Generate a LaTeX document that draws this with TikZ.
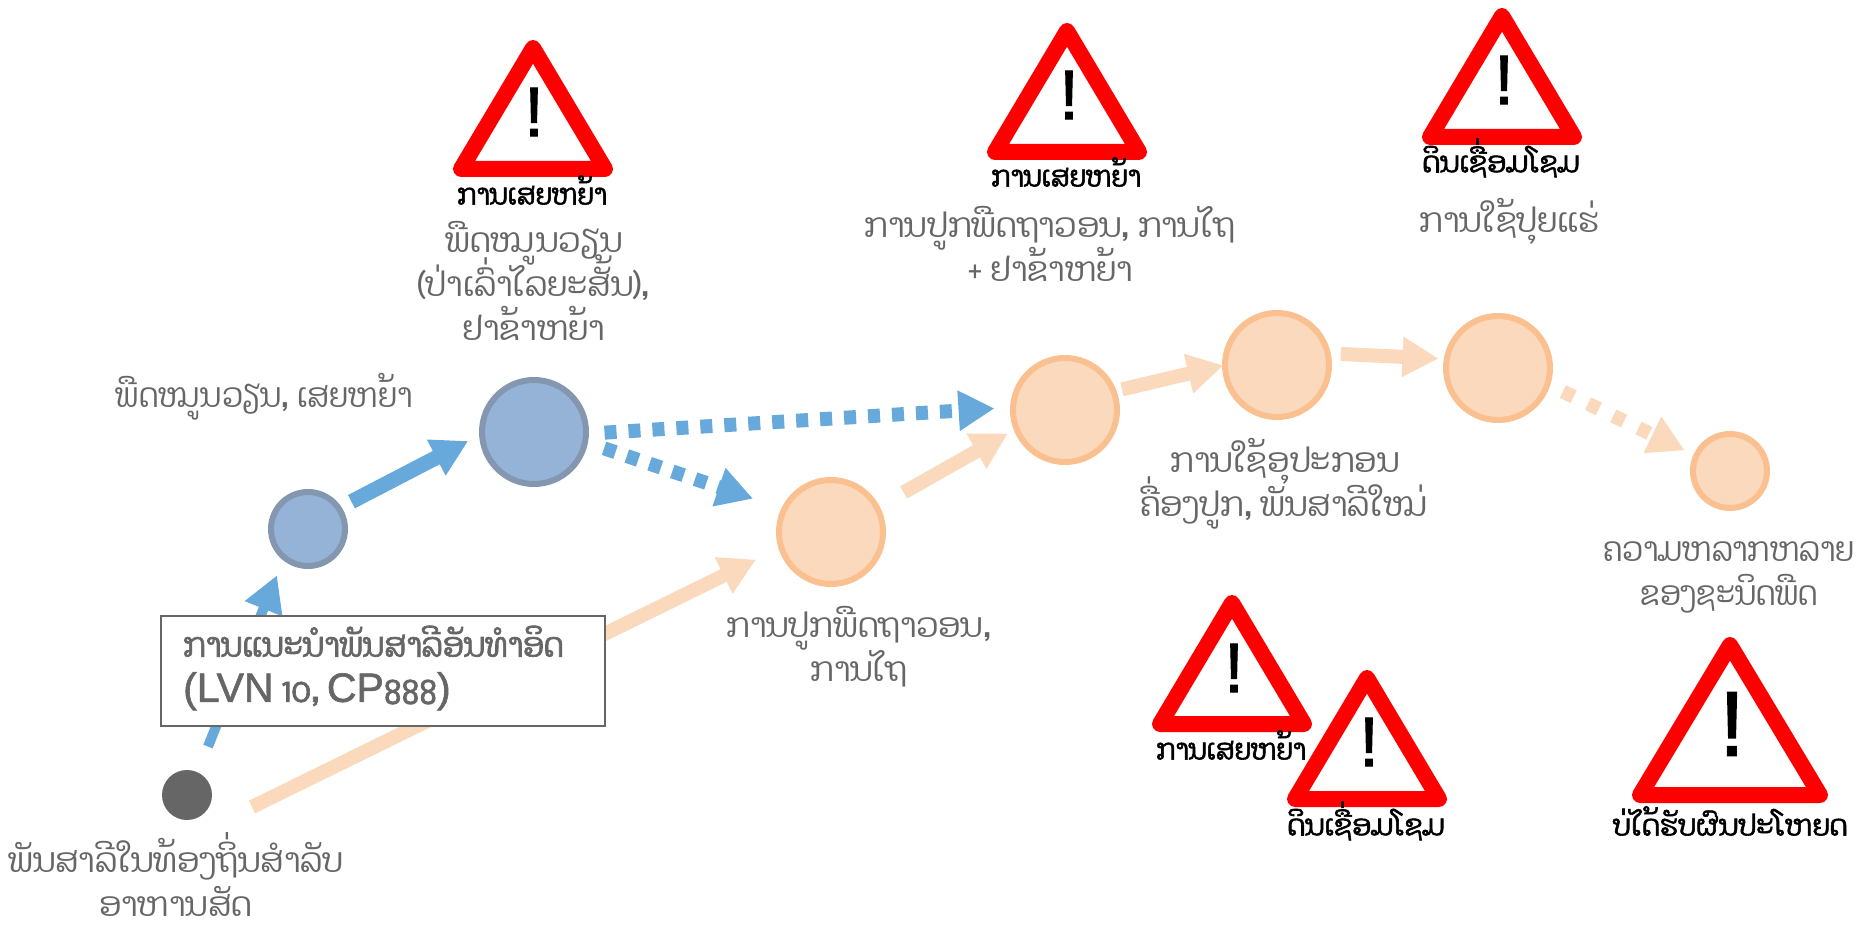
\documentclass[tikz,border=0pt]{standalone}
\usepackage{fontspec}
\usetikzlibrary{arrows.meta,calc}
\setmainfont{Liberation Sans}
\newfontfamily\laofont[Script=Lao,FakeStretch=0.89]{Dhyana}
\newfontfamily\laowide[Script=Lao,FakeStretch=0.95]{Dhyana}
\newfontfamily\laobold[Script=Lao,FakeStretch=0.9,FakeBold=2]{Dhyana}
\newfontfamily\laoboldwide[Script=Lao,FakeStretch=0.96,FakeBold=2]{Dhyana}
\newfontfamily\latbold[FakeBold=1.5]{Liberation Sans}
\newfontfamily\bangfont[FakeBold=1.5]{Liberation Sans}
\definecolor{bluearrow}{HTML}{66A9DA}
\definecolor{orangearrow}{HTML}{FBD9BC}
\definecolor{bluefill}{HTML}{95B3D7}
\definecolor{blueline}{HTML}{8497B0}
\definecolor{orangeline}{HTML}{FAC090}
\definecolor{greytext}{HTML}{666666}
\tikzset{
  bignode/.style={circle,inner sep=0pt,outer sep=0pt,minimum size=104pt,line width=6pt},
  smallnode/.style={circle,inner sep=0pt,outer sep=0pt,minimum size=74pt,line width=6pt},
  bluenode/.style={fill=bluefill,draw=blueline},
  orangenode/.style={fill=orangearrow,draw=orangeline},
  dotnode/.style={circle,inner sep=0pt,outer sep=0pt,minimum size=50pt,fill=greytext},
  conn/.style={line width=14pt,-{Triangle[length=36pt,width=38pt]}},
  blueconn/.style={conn,draw=bluearrow},
  orangeconn/.style={conn,draw=orangearrow},
  dashconn/.style={dash pattern=on 12pt off 12pt},
  graylabel/.style={text=greytext,align=center,inner sep=0pt,font=\laofont\fontsize{34}{44}\selectfont,execute at begin node={\lineskiplimit=-100pt}},
  graywide/.style={graylabel,font=\laowide\fontsize{34}{44}\selectfont},
  blacklabel/.style={text=black,align=center,inner sep=0pt,font=\laobold\fontsize{29}{34}\selectfont},
  blackwide/.style={blacklabel,font=\laoboldwide\fontsize{29}{34}\selectfont},
  bang/.style={text=black,inner sep=0pt,font=\bangfont\fontsize{70}{70}\selectfont},
  bigbang/.style={text=black,inner sep=0pt,font=\bangfont\fontsize{92}{92}\selectfont},
  warnline/.style={draw=red,fill=white,line width=16pt,line join=round},
  boxnode/.style={draw=greytext,fill=white,line width=2pt,inner sep=0pt,minimum width=444pt,minimum height=110pt},
}
\newcommand{\warntri}[4]{% cx top halfw height
  \draw[warnline] (#1,#2+8) -- (#1-#3+8,#2+#4-8) -- (#1+#3-8,#2+#4-8) -- cycle;
}
\newcommand{\boxlat}[1]{{\latbold\fontsize{41}{45}\selectfont #1}}
\begin{document}
\begin{tikzpicture}[x=1pt,y=-1pt]
\useasboundingbox (0,0) rectangle (1858,925);
% warning triangles
\warntri{533}{40}{80}{137}
\warntri{1067}{23}{80}{137}
\warntri{1502}{8}{80}{137}
\warntri{1232}{595}{80}{137}
\warntri{1367}{670}{80}{137}
\warntri{1730}{637}{98}{166}
\node[bang] (b1) at (534,112) {!};
\node[bang] (b2) at (1069,95) {!};
\node[bang] (b3) at (1504,80) {!};
\node[bang] (b4) at (1234,668) {!};
\node[bang] (b5) at (1369,742) {!};
\node[bigbang] (b6) at (1732,724) {!};
% black labels
\node[blacklabel] (w1) at (532,190) {ການເສຍຫຍ້າ};
\node[blacklabel] (w2) at (1066,172) {ການເສຍຫຍ້າ};
\node[blackwide] (w3) at (1501,158) {ດິນເຊື່ອມໂຊມ};
\node[blacklabel] (w4) at (1231,745) {ການເສຍຫຍ້າ};
\node[blackwide] (w5) at (1366,821) {ດິນເຊື່ອມໂຊມ};
\node[blackwide] (w6) at (1730,821) {ບ່ໄດ້ຮັບຜົນປະໂຫຍດ};
% grey labels
\node[graywide] (t1) at (534,281) {ພືດໝູນວຽນ\\(ປ່າເລົ່າໄລຍະສັ້ນ),\\ຢາຂ້າຫຍ້າ};
\node[graylabel] (t2) at (264,397) {ພືດໝູນວຽນ, ເສຍຫຍ້າ};
\node[graywide] (t3) at (1050,244) {ການປູກພືດຖາວອນ, ການໄຖ\\+ ຢາຂ້າຫຍ້າ};
\node[graywide] (t4) at (1510,221) {ການໃຊ້ປຸຍແຮ່};
\node[graywide] (t5) at (1285,484) {ການໃຊ້ອຸປະກອນ\\ຄື່ອງປູກ, ພັນສາລີໃໝ່};
\node[graylabel] (t6) at (1729,577) {ຄວາມຫລາກຫລາຍ\\ຂອງຊະນິດພືດ};
\node[graywide] (t7) at (859,647) {ການປູກພືດຖາວອນ,\\ການໄຖ};
\node[graywide] (t8) at (176,875) {ພັນສາລີໃນທ້ອງຖິ່ນສຳລັບ\\ອາຫານສັດ};
% circles
\node[dotnode] (dot) at (187,795) {};
\node[smallnode,bluenode] (s) at (308,529) {};
\node[bignode,bluenode] (g) at (534,432) {};
\node[bignode,orangenode] (a) at (831,532) {};
\node[bignode,orangenode] (b) at (1065,410) {};
\node[bignode,orangenode] (c) at (1277,365) {};
\node[bignode,orangenode] (d) at (1498,368) {};
\node[smallnode,orangenode] (e) at (1730,471) {};
\coordinate (dotout) at ($(dot)+(65,12)$);
% connectors
\draw[blueconn,line width=10pt,shorten <=27.8pt,shorten >=19.4pt] (dot.65.4) -- (s.230.7);
\draw[blueconn,line width=15pt,shorten <=14.4pt,shorten >=15.6pt] (s.34) -- (g.182.5);
\draw[blueconn,dashconn,shorten <=20.1pt,shorten >=32.9pt] (g.-11.9) -- (a.154.3);
\draw[blueconn,dashconn,shorten <=18.6pt,shorten >=18.6pt] (g.-2.4) -- (b.177.6);
\draw[orangeconn,shorten >=28.2pt] (dotout) -- (a.197.3);
\draw[orangeconn,shorten <=30.7pt,shorten >=9.9pt] (a.28.7) -- (b.201.6);
\draw[orangeconn,shorten <=8.6pt,shorten >=1.5pt] (b.21.1) -- (c.180);
\draw[orangeconn,shorten <=13.2pt,shorten >=8.3pt] (c.13.2) -- (d.170.5);
\draw[orangeconn,dash pattern=on 12pt off 16pt,shorten <=17.1pt,shorten >=12.7pt] (d.-18.4) -- (e.156.5);
% box
\node[boxnode] (box) at (383,671) {};
\node[graylabel,align=left,anchor=west,font=\laobold\fontsize{34}{45}\selectfont] (boxt) at (183,668) {ການແນະນຳພັນສາລີອັນທຳອິດ\\\boxlat{(LVN} 10, \boxlat{CP}888\boxlat{)}};
\end{tikzpicture}
\end{document}
